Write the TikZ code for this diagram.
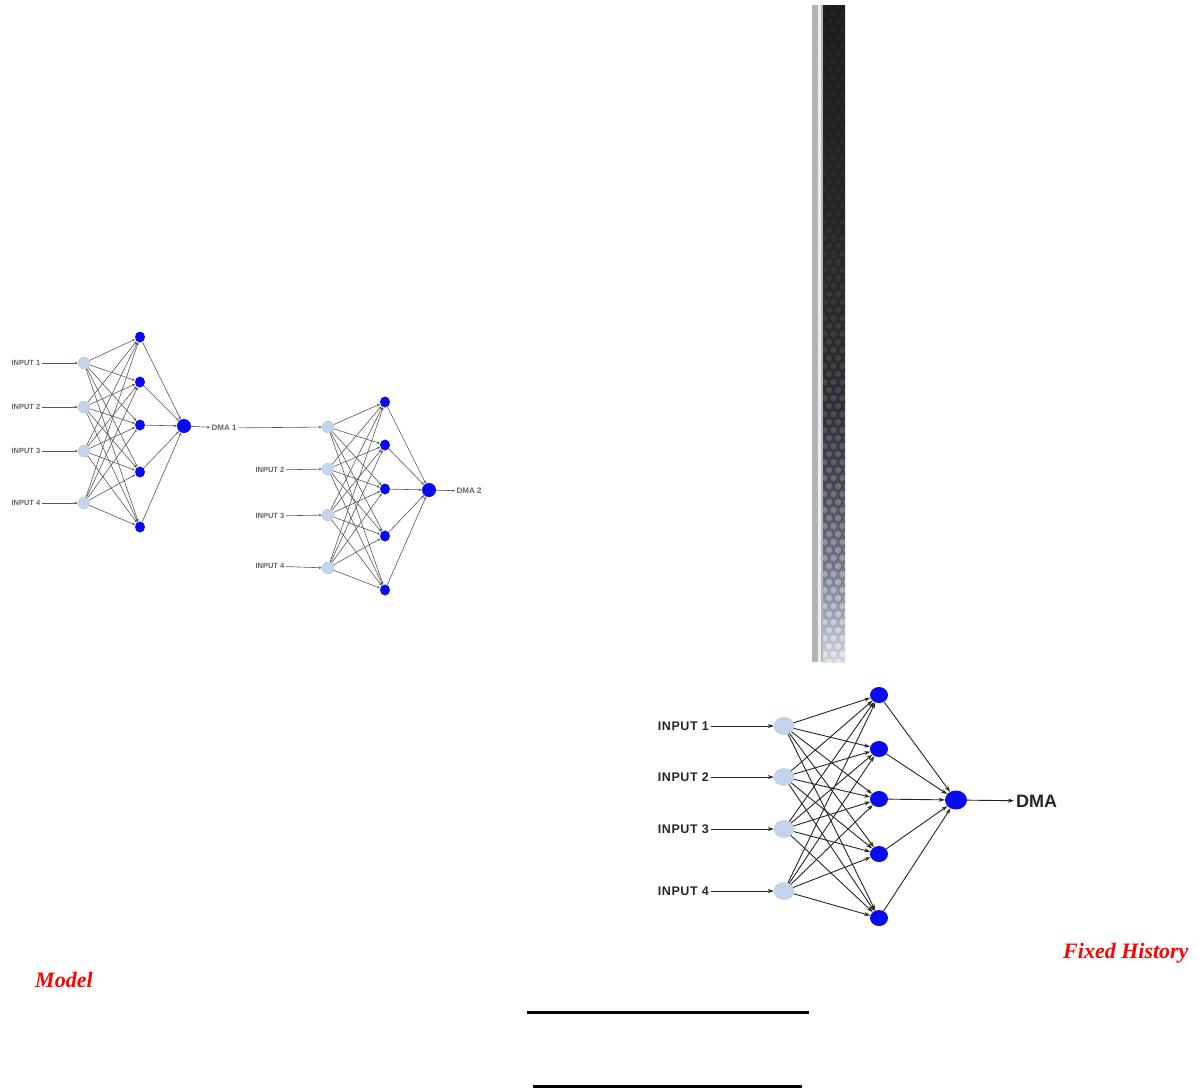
\documentclass[tikz,border=0pt]{standalone}
\usepackage{fontspec}
\setmainfont{Liberation Serif}
\newfontfamily\labsans{Liberation Sans}
\newfontfamily\labsanswide[LetterSpace=5]{Liberation Sans}
\usetikzlibrary{arrows.meta,shapes.geometric}
\definecolor{inblue}{HTML}{C4D4EC}
\definecolor{hidblue}{HTML}{0A0AF0}
\definecolor{sb0}{HTML}{D0D6E2}
\definecolor{sb1}{HTML}{A0A8B8}
\definecolor{sb2}{HTML}{6A7080}
\definecolor{sb3}{HTML}{404550}
\definecolor{sb4}{HTML}{2C2E33}
\definecolor{sb5}{HTML}{242424}
\definecolor{sb6}{HTML}{1C1C1C}
\definecolor{stripgray}{HTML}{B4B4B4}
\definecolor{stripwhite}{HTML}{EEEEEE}
\pgfdeclareverticalshading{barshade}{100bp}{color(0bp)=(sb0); color(25bp)=(sb0); color(28.2bp)=(sb1); color(32.8bp)=(sb2); color(38.9bp)=(sb3); color(44.9bp)=(sb4); color(60.2bp)=(sb5); color(75bp)=(sb6); color(100bp)=(sb6)}
\tikzset{
  smallin/.style={ellipse, fill=inblue, draw=inblue!80!gray, line width=0.3pt, minimum width=12pt, minimum height=12pt, inner sep=0pt},
  smallhid/.style={ellipse, fill=hidblue, minimum width=10pt, minimum height=11pt, inner sep=0pt},
  smallout/.style={ellipse, fill=hidblue, minimum width=14pt, minimum height=14pt, inner sep=0pt},
  bigin/.style={ellipse, fill=inblue, draw=inblue!80!gray, line width=0.4pt, minimum width=20pt, minimum height=17pt, inner sep=0pt},
  bighid/.style={ellipse, fill=hidblue, minimum width=18pt, minimum height=16pt, inner sep=0pt},
  bigout/.style={ellipse, fill=hidblue, minimum width=22pt, minimum height=19pt, inner sep=0pt},
  smalllab/.style={font=\labsans\bfseries\fontsize{7.5}{8.5}\selectfont, text=black!60, inner sep=1.5pt},
  biglab/.style={font=\labsanswide\bfseries\fontsize{12.5}{14}\selectfont, text=black!85, inner sep=2pt},
  smalledge/.style={draw=black!65, line width=0.6pt, -{Stealth[length=3pt,width=2.5pt]}},
  bigedge/.style={draw=black!85, line width=0.9pt, -{Stealth[length=6pt,width=4pt]}},
  redtitle/.style={font=\fontsize{22}{26}\selectfont\bfseries\itshape, text=red, inner sep=0pt}
}
\begin{document}
\begin{tikzpicture}[x=1pt,y=-1pt]
\fill[white] (0,0) rectangle (1198,1088);
\useasboundingbox (0,0) rectangle (1198,1088);

% ---------- vertical bar ----------
\fill[stripgray] (812,5) rectangle (823,662);
\fill[stripwhite] (818,5) rectangle (821,662);
\shade[shading=barshade] (823,5) rectangle (845,662);
\begin{scope}
  \clip (823,5) rectangle (845,662);
  \foreach \r in {0,...,82} {
    \pgfmathsetmacro\yy{6+\r*8}
    \pgfmathsetmacro\ff{\yy/662}
    \pgfmathsetmacro\op{0.03+0.45*\ff*\ff*\ff}
    \pgfmathsetmacro\xo{mod(\r,2)*4.5}
    \foreach \c in {0,...,3} {
      \fill[white, opacity=\op] ({820+\c*9+\xo},\yy) circle (3.2);
    }
  }
\end{scope}

% ---------- left network ----------
\foreach \i/\y in {1/363,2/407,3/451,4/503} {
  \node[smallin] (li\i) at (84,\y) {};
  \node[smalllab, anchor=east] (ll\i) at (42,\y) {INPUT \i};
}
\foreach \h/\y in {1/337,2/382,3/425,4/472,5/527} {
  \node[smallhid] (lh\h) at (140,\y) {};
}
\node[smallout] (lo) at (184,426) {};
\node[smalllab, anchor=west, font=\labsans\bfseries\fontsize{8}{9}\selectfont] (ldma) at (210,428) {DMA 1};
\foreach \i in {1,...,4} {
  \draw[smalledge] (ll\i) -- (li\i);
  \foreach \h in {1,...,5} { \draw[smalledge] (li\i) -- (lh\h); }
}
\foreach \h in {1,...,5} { \draw[smalledge] (lh\h) -- (lo); }
\draw[smalledge] (lo) -- (ldma);

% ---------- middle network ----------
\foreach \i/\y in {1/427,2/469,3/515,4/568} {
  \node[smallin] (mi\i) at (328,\y) {};
}
\foreach \i/\y in {2/470,3/516,4/566} {
  \node[smalllab, anchor=east] (ml\i) at (286,\y) {INPUT \i};
}
\foreach \h/\y in {1/402,2/445,3/489,4/536,5/590} {
  \node[smallhid] (mh\h) at (385,\y) {};
}
\node[smallout] (mo) at (429,490) {};
\node[smalllab, anchor=west, font=\labsans\bfseries\fontsize{8}{9}\selectfont] (mdma) at (455,491) {DMA 2};
\draw[smalledge] (ldma) -- (mi1);
\foreach \i in {2,...,4} { \draw[smalledge] (ml\i) -- (mi\i); }
\foreach \i in {1,...,4} {
  \foreach \h in {1,...,5} { \draw[smalledge] (mi\i) -- (mh\h); }
}
\foreach \h in {1,...,5} { \draw[smalledge] (mh\h) -- (mo); }
\draw[smalledge] (mo) -- (mdma);

% ---------- right network ----------
\foreach \i/\y in {1/726,2/777,3/829,4/891} {
  \node[bigin] (ri\i) at (784,\y) {};
  \node[biglab, anchor=east] (rl\i) at (711,\y) {INPUT \i};
}
\foreach \h/\y in {1/695,2/749,3/799,4/854,5/918} {
  \node[bighid] (rh\h) at (879,\y) {};
}
\node[bigout] (ro) at (956,800) {};
\node[biglab, anchor=west, font=\labsans\bfseries\fontsize{18}{20}\selectfont] (rdma) at (1014,801) {DMA};
\foreach \i in {1,...,4} {
  \draw[bigedge] (rl\i) -- (ri\i);
  \foreach \h in {1,...,5} { \draw[bigedge] (ri\i) -- (rh\h); }
}
\foreach \h in {1,...,5} { \draw[bigedge] (rh\h) -- (ro); }
\draw[bigedge] (ro) -- (rdma);

% ---------- captions ----------
\node[redtitle, anchor=base west] (fixed) at (1063,958) {Fixed History};
\node[redtitle, anchor=base west] (model) at (35,987) {Model};

% ---------- rules ----------
\coordinate (ra) at (527,1012);
\coordinate (rb) at (809,1012);
\coordinate (rc) at (533,1086);
\coordinate (rd) at (802,1086);
\draw[line width=3pt] (ra) -- (rb);
\draw[line width=3pt] (rc) -- (rd);
\end{tikzpicture}
\end{document}
